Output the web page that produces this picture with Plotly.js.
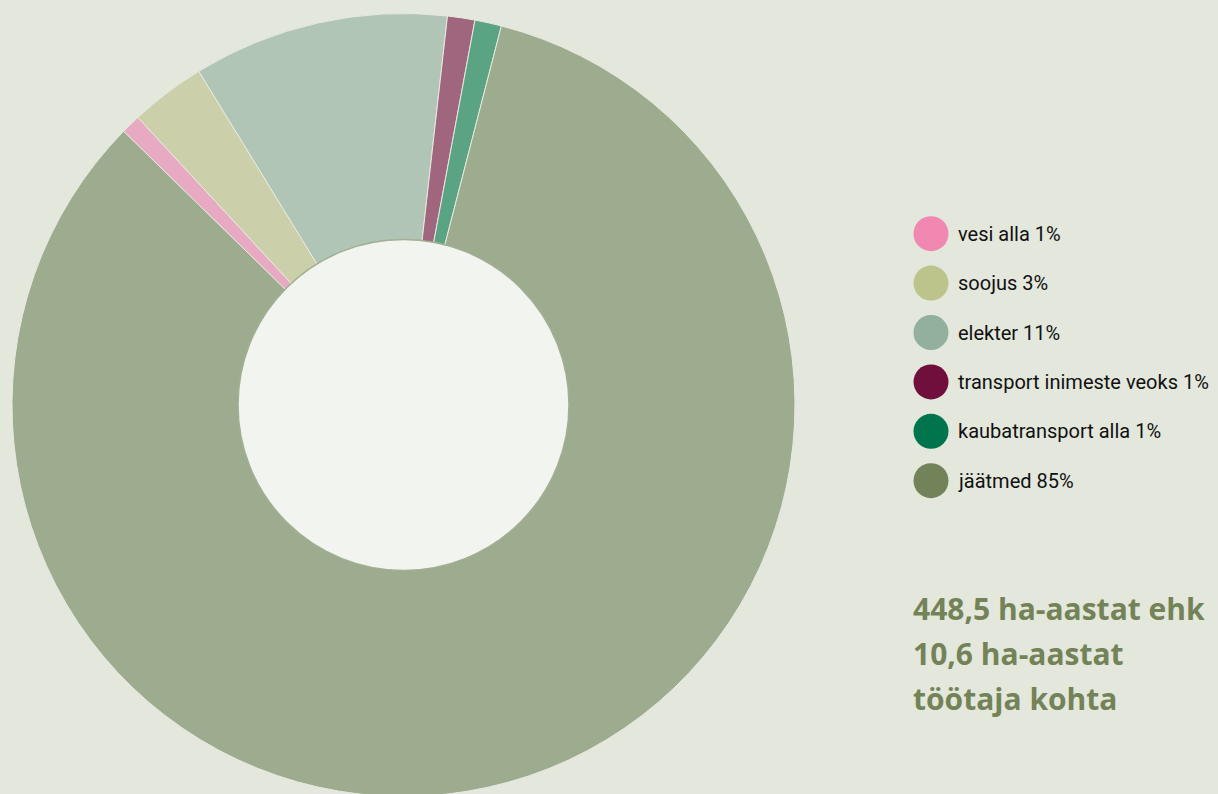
<!DOCTYPE html>
<html>
<head>
<meta charset="utf-8">
<script src="https://cdn.plot.ly/plotly-3.0.1.min.js"></script>
<style>
html,body{margin:0;padding:0;overflow:hidden;background:#e3e7dc;}
#chart{width:1218px;height:797px;}
</style>
</head>
<body>
<div id="chart"></div>
<script>
// Data
var categories = ["vesi", "soojus", "elekter", "transport inimeste veoks", "kaubatransport", "jäätmed"];
var shares = [0.81, 3.11, 10.55, 1.13, 1.10, 83.3];
var legendLabels = ["vesi alla 1%", "soojus 3%", "elekter 11%", "transport inimeste veoks 1%", "kaubatransport alla 1%", "jäätmed 85%"];
var sliceColors = ["#e8aac2", "#cbcfaa", "#b0c5b6", "#a0667e", "#5aa383", "#9dab8e"];
var legendColors = ["#f088b2", "#bcc48c", "#93b09d", "#700f3c", "#00744c", "#72835a"];
var summaryLines = ["448,5 ha-aastat ehk", "10,6 ha-aastat", "töötaja kohta"];

var W = 1218, H = 797;
var cx = 403.5, cy = 405, R = 391.5, r = 165.5;

function dom(c, rad, total, flip) {
  if (!flip) return [(c - rad) / total, (c + rad) / total];
  return [(total - (c + rad)) / total, (total - (c - rad)) / total];
}

var legY0 = 233.7, legStep = 49.4, legX = 931;
var legYs = legendLabels.map(function (_, i) { return legY0 + i * legStep; });

var traces = [
  {
    type: "pie",
    labels: categories,
    values: shares,
    sort: false,
    direction: "clockwise",
    rotation: -45.64,
    textinfo: "none",
    hoverinfo: "label+percent",
    showlegend: false,
    marker: { colors: sliceColors, line: { color: "#e6e9df", width: 1 } },
    domain: { x: dom(cx, R, W, false), y: dom(cy, R, H, true) }
  },
  {
    type: "pie",
    labels: ["hole"],
    values: [1],
    sort: false,
    textinfo: "none",
    hoverinfo: "skip",
    showlegend: false,
    marker: { colors: ["#f2f4ef"], line: { color: "#a3af93", width: 1.5 } },
    domain: { x: dom(cx, r, W, false), y: dom(cy, r, H, true) }
  },
  {
    type: "scatter",
    mode: "markers",
    x: legendLabels.map(function () { return legX; }),
    y: legYs,
    marker: { size: 35, color: legendColors, line: { width: 0 } },
    hoverinfo: "skip",
    showlegend: false,
    xaxis: "x",
    yaxis: "y"
  }
];

var annotations = legendLabels.map(function (t, i) {
  return {
    x: 957, y: legYs[i], xref: "x", yref: "y",
    text: t, showarrow: false, xanchor: "left", yanchor: "middle",
    borderpad: 0,
    font: { family: "Roboto, sans-serif", size: 20, color: "#111111" }
  };
});
var sumY0 = 608, sumStep = 45;
summaryLines.forEach(function (t, i) {
  annotations.push({
    x: 912, y: sumY0 + i * sumStep, xref: "x", yref: "y",
    text: "<b>" + t + "</b>", showarrow: false, xanchor: "left", yanchor: "middle",
    borderpad: 0,
    font: { family: "Open Sans, sans-serif", size: 30, color: "#738357" }
  });
});

var layout = {
  width: W, height: H,
  margin: { l: 0, r: 0, t: 0, b: 0, pad: 0 },
  paper_bgcolor: "#e3e7dc",
  plot_bgcolor: "rgba(0,0,0,0)",
  showlegend: false,
  xaxis: { range: [0, W], visible: false, fixedrange: true, domain: [0, 1] },
  yaxis: { range: [H, 0], visible: false, fixedrange: true, domain: [0, 1] },
  annotations: annotations
};

Plotly.newPlot("chart", traces, layout, { displayModeBar: false, staticPlot: true });
</script>
</body>
</html>
